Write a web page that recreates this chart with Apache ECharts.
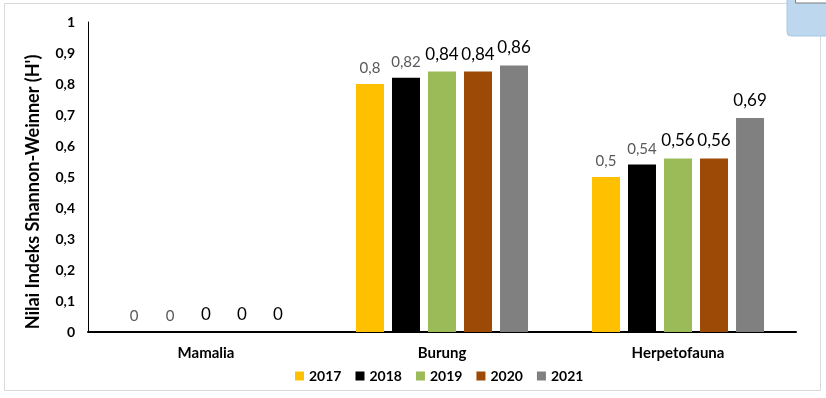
<!DOCTYPE html>
<html>
<head>
<meta charset="utf-8">
<script src="https://cdn.jsdelivr.net/npm/echarts@6/dist/echarts.min.js"></script>
<style>
  html, body { margin: 0; padding: 0; background: #fff; }
  #chart { width: 826px; height: 398px; }
</style>
</head>
<body>
<div id="chart"></div>
<script>
const categories = ['Mamalia', 'Burung', 'Herpetofauna']
const years = ['2017', '2018', '2019', '2020', '2021']
const values2017 = [0, 0.8, 0.5]
const values2018 = [0, 0.82, 0.54]
const values2019 = [0, 0.84, 0.56]
const values2020 = [0, 0.84, 0.56]
const values2021 = [0, 0.86, 0.69]
const yTicks = [0, 0.1, 0.2, 0.3, 0.4, 0.5, 0.6, 0.7, 0.8, 0.9, 1]
const yTitle = "Nilai Indeks Shannon-Weinner (H')"

const seriesValues = [values2017, values2018, values2019, values2020, values2021]
const colors = ['#FFC000', '#000000', '#9BBB59', '#9C4A06', '#808080']
// first two years have thinner grey labels in the original
const labelStyles = [
  { color: '#595959', fontSize: 15, distance: 8 },
  { color: '#595959', fontSize: 15, distance: 8 },
  { color: '#000000', fontSize: 17, distance: 9 },
  { color: '#000000', fontSize: 17, distance: 9 },
  { color: '#000000', fontSize: 17, distance: 9 },
]

const fmt = (v) => String(v).replace('.', ',')
const font = 'Lato, "Open Sans", sans-serif'

const chart = echarts.init(document.getElementById('chart'))

const option = {
  animation: false,
  textStyle: { fontFamily: font },
  graphic: [
    {
      type: 'rect',
      shape: { x: 4.5, y: 3.5, width: 816, height: 387 },
      style: { fill: 'none', stroke: '#d9d9d9', lineWidth: 1 },
      z: -1,
    },
    {
      type: 'rect',
      shape: { x: 787, y: -6, width: 50, height: 42, r: 4 },
      style: { fill: '#BDD7EE', stroke: '#A9C8E4', lineWidth: 1 },
    },
    {
      type: 'rect',
      shape: { x: 795.5, y: -4, width: 40, height: 7 },
      style: { fill: '#ffffff', stroke: '#7f7f7f', lineWidth: 1 },
    },
    {
      // y axis title, sits a bit below the plot's middle in the original
      type: 'text',
      x: 33,
      y: 192,
      rotation: Math.PI / 2,
      style: {
        text: yTitle,
        fontFamily: font,
        fontWeight: 'bold',
        fontSize: 18,
        fill: '#000',
        align: 'center',
        verticalAlign: 'middle',
      },
    },
  ],
  legend: {
    data: years,
    bottom: 10,
    left: 290,
    itemWidth: 9,
    itemHeight: 9,
    itemGap: 14,
    icon: 'rect',
    textStyle: { fontFamily: font, fontWeight: 'bold', fontSize: 14, color: '#000' },
  },
  grid: {
    left: 88,
    right: 30,
    top: 22,
    bottom: 66,
  },
  xAxis: {
    type: 'category',
    data: categories,
    axisLine: { lineStyle: { color: '#000', width: 2 } },
    axisTick: { show: false },
    axisLabel: {
      margin: 14,
      fontFamily: font,
      fontWeight: 'bold',
      fontSize: 15,
      color: '#000',
    },
  },
  yAxis: {
    type: 'value',
    min: 0,
    max: 1,
    interval: 0.1,
    axisLine: { show: true, lineStyle: { color: '#000', width: 1 } },
    axisTick: { show: false },
    splitLine: { show: false },
    axisLabel: {
      margin: 13,
      fontFamily: font,
      fontWeight: 'bold',
      fontSize: 14,
      color: '#000',
      customValues: yTicks,
      formatter: (v) => fmt(Math.round(v * 10) / 10),
    },
  },
  series: years.map((year, i) => ({
    name: year,
    type: 'bar',
    data: seriesValues[i],
    barWidth: 28,
    barGap: '28.6%',
    barCategoryGap: '27%',
    itemStyle: { color: colors[i] },
    label: {
      show: true,
      position: 'top',
      distance: labelStyles[i].distance,
      fontFamily: font,
      fontSize: labelStyles[i].fontSize,
      color: labelStyles[i].color,
      formatter: (p) => fmt(p.value),
    },
  })),
}

chart.setOption(option)
</script>
</body>
</html>
